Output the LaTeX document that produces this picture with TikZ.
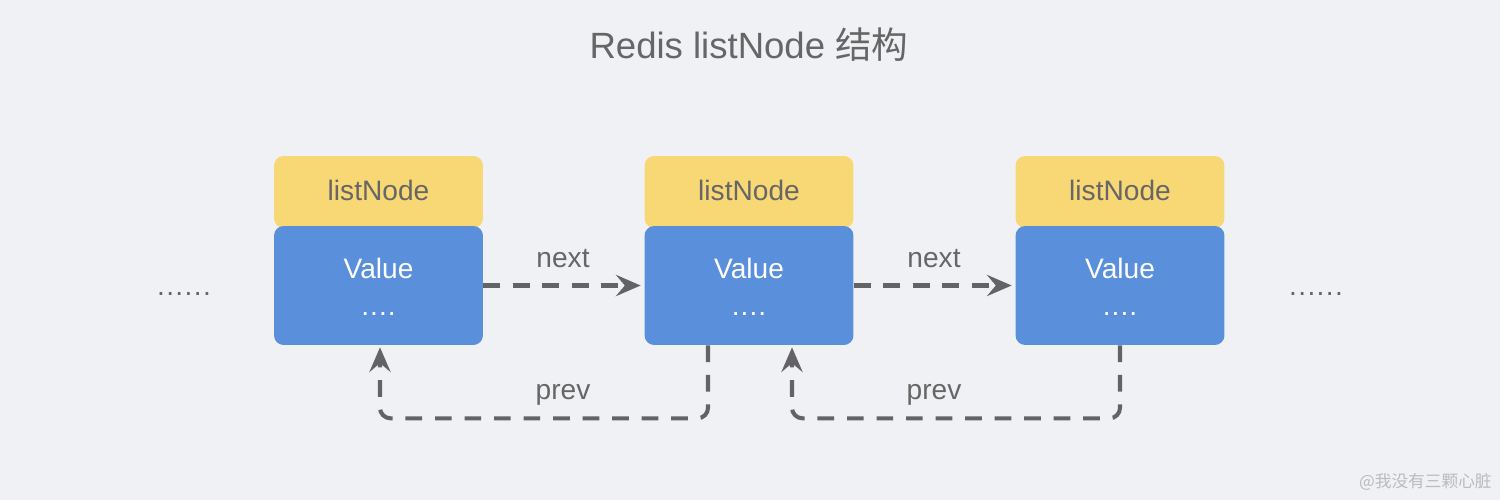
\documentclass[tikz,border=0pt]{standalone}
\usepackage{fontspec}
\setmainfont{Liberation Sans}
\newfontfamily\cjk{Noto Sans CJK SC}
\usetikzlibrary{arrows.meta,calc}
\definecolor{bgc}{HTML}{F0F1F5}
\definecolor{ylw}{HTML}{F8D775}
\definecolor{blu}{HTML}{5A8FDC}
\definecolor{txtg}{HTML}{666666}
\definecolor{arrg}{HTML}{636366}
\definecolor{wmk}{HTML}{BBBBBF}
\tikzset{
  headbox/.style={fill=ylw, rounded corners=5.5pt, minimum width=4.18cm, minimum height=1.44cm, inner sep=0pt},
  valbox/.style={fill=blu, rounded corners=5.5pt, minimum width=4.18cm, minimum height=2.38cm, inner sep=0pt},
  headtxt/.style={text=txtg, font=\fontsize{16pt}{19pt}\selectfont, inner sep=0pt},
  valtxt/.style={text=white, font=\fontsize{16pt}{19pt}\selectfont, inner sep=0pt},
  lbl/.style={text=txtg, font=\fontsize{16pt}{19pt}\selectfont, inner sep=0pt},
  dasharrow/.style={draw=arrg, line width=2.3pt, dash pattern=on 9.5pt off 7.3pt,
    -{Stealth[length=14pt, width=12pt, inset=5pt]}},
}
\begin{document}
\begin{tikzpicture}[x=0.02cm, y=-0.02cm]
\fill[bgc] (0,0) rectangle (1500,500);
\useasboundingbox (0,0) rectangle (1500,500);

\node[text=txtg, font=\fontsize{20.8pt}{24pt}\selectfont, inner sep=0pt] (title) at (749,45) {Redis listNode {\cjk 结构}};

\foreach \i/\x in {1/378.5, 2/749, 3/1120} {
  \node[headbox] (h\i) at (\x,192) {};
  \node[valbox] (b\i) at (\x,285.5) {};
  \node[headtxt] (ht\i) at (\x,190) {listNode};
  \node[valtxt] (vt\i) at (\x,268) {Value};
  \node[valtxt, anchor=base] (dt\i) at (\x,315.5) {.\kern0.6pt.\kern0.6pt.\kern0.6pt.};
}

\node[lbl, anchor=base] (ldots) at (184,295) {.\kern0.8pt.\kern0.8pt.\kern0.8pt.\kern0.8pt.\kern0.8pt.};
\node[lbl, anchor=base] (rdots) at (1316,295) {.\kern0.8pt.\kern0.8pt.\kern0.8pt.\kern0.8pt.\kern0.8pt.};

\draw[dasharrow, shorten >=2pt] (b1.east) -- (b2.west);
\draw[dasharrow, shorten >=2pt] (b2.east) -- (b3.west);
\node[lbl, anchor=base] (n1) at (563,267) {next};
\node[lbl, anchor=base] (n2) at (934,267) {next};

\draw[dasharrow, rounded corners=6pt] ($(b2.south)+(-41,0)$) |- ($(b1.south)+(1.5,73)$) -- ($(b1.south)+(1.5,2)$);
\draw[dasharrow, rounded corners=6pt] ($(b3.south)+(0,0)$) |- ($(b2.south)+(43,73)$) -- ($(b2.south)+(43,2)$);
\node[lbl, anchor=base] (p1) at (563,399) {prev};
\node[lbl, anchor=base] (p2) at (934,399) {prev};

\node[text=wmk, font=\cjk\fontsize{9.5pt}{11pt}\selectfont, anchor=east, inner sep=0pt] (wm) at (1492,482) {@我没有三颗心脏};
\end{tikzpicture}
\end{document}
